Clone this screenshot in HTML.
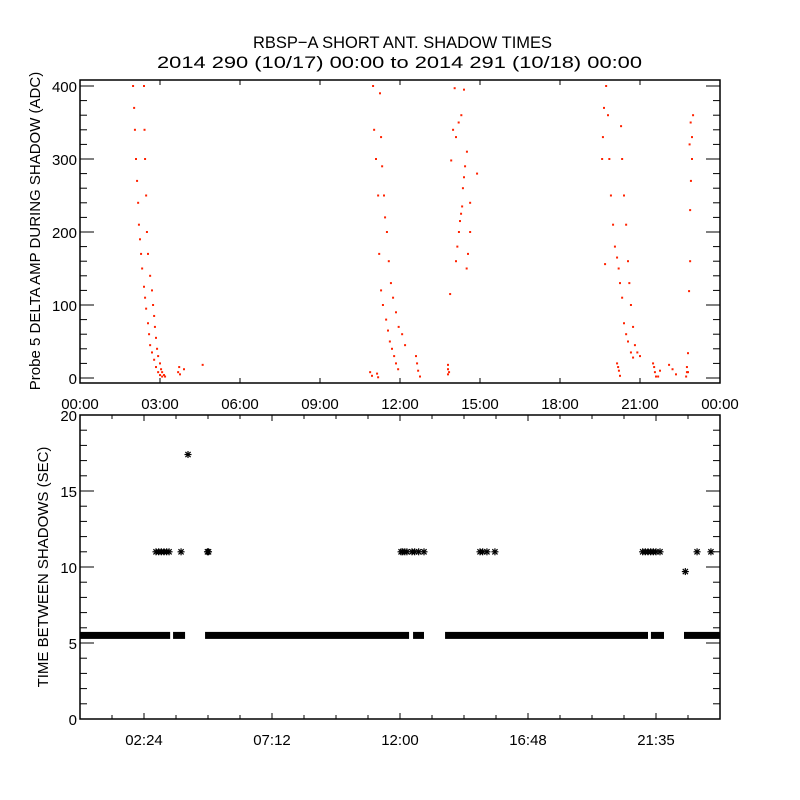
<!DOCTYPE html>
<html><head><meta charset="utf-8">
<style>
html,body{margin:0;padding:0;background:#fff;}
svg{display:block;}
text{font-family:"Liberation Sans",sans-serif;fill:#000;}
</style></head>
<body>
<svg id="chart" width="800" height="800" viewBox="0 0 800 800">
<rect x="0" y="0" width="800" height="800" fill="#fff"/>
<text x="253" y="48" font-size="17" textLength="299" lengthAdjust="spacingAndGlyphs">RBSP−A SHORT ANT. SHADOW TIMES</text>
<text x="157" y="68" font-size="17" textLength="485" lengthAdjust="spacingAndGlyphs">2014 290 (10/17) 00:00 to 2014 291 (10/18) 00:00</text>
<g id="topPanel"></g>
<g id="botPanel"></g>
</svg>
<script>
// ---- top panel data: [hour, ADC] ----
const ampHours = [
1.99,2.03,2.06,2.1,2.14,2.18,2.21,2.25,2.29,2.33,2.4,2.44,2.48,2.55,2.59,2.63,2.7,2.78,2.85,2.93,3.0,3.08,
2.4,2.42,2.44,2.48,2.51,2.55,2.63,2.7,2.74,2.78,2.81,2.85,2.89,2.93,3.0,3.04,3.08,3.15,3.19,3.68,3.72,3.75,3.9,4.6,
10.88,10.95,10.99,11.03,11.1,11.18,11.22,11.29,11.36,11.48,11.55,11.62,11.7,11.78,11.85,11.93,
11.14,11.18,11.25,11.29,11.33,11.4,11.44,11.51,11.58,11.66,11.74,11.85,11.95,12.08,12.19,12.6,12.64,12.68,12.75,
13.8,13.8,13.8,13.84,13.88,13.92,13.99,14.05,14.1,14.15,14.21,14.25,14.29,14.33,14.36,14.4,14.44,14.51,
14.1,14.2,14.3,14.4,14.5,14.55,14.63,14.63,14.89,
19.58,19.61,19.65,19.69,19.73,19.8,19.85,19.91,19.99,20.06,20.14,20.2,20.25,20.33,20.4,20.48,20.55,20.66,20.74,
20.14,20.18,20.21,20.25,20.29,20.33,20.4,20.48,20.55,20.6,20.66,20.74,20.81,20.9,21.0,
21.49,21.53,21.56,21.6,21.68,21.75,22.09,22.22,22.35,22.73,22.76,22.76,
22.8,22.8,22.84,22.88,22.88,22.91,22.95,22.95,22.99,22.9,22.86
];
const ampValues = [
400,370,340,300,270,240,210,190,170,150,125,110,95,75,60,45,35,25,15,8,4,2,
400,340,300,250,200,170,140,120,100,85,70,55,40,30,20,12,8,4,2,8,15,5,12,18,8,3,
400,340,300,250,170,120,100,80,65,50,40,30,20,12,6,1,
390,330,290,250,220,200,160,130,110,90,70,60,45,30,20,10,2,5,12,18,8,
115,298,340,397,160,180,200,215,225,235,260,275,290,310,330,350,360,395,
150,170,200,240,280,300,330,370,156,
400,360,300,250,210,180,165,150,130,110,75,60,50,35,28,20,15,10,3,
345,300,250,210,160,130,100,70,45,35,30,20,15,8,2,
2,10,18,12,5,2,15,8,8,34,119,160,
230,270,300,330,360,350,320,370,395,250,310
];
// ---- bottom panel data ----
const bandStarts = [0.0,3.49,4.69,12.49,13.69,21.41,22.65];
const bandEnds   = [3.38,3.94,12.34,12.9,21.3,21.9,24.0];
const bandValue = 5.5;
const outHours  = [2.85,2.95,3.05,3.15,3.25,3.34,3.79,4.05,4.78,4.82,12.04,12.1,12.18,12.26,12.45,12.55,12.7,12.9,15.0,15.1,15.26,15.56,21.1,21.2,21.3,21.4,21.5,21.6,21.75,22.7,23.14,23.66];
const outValues = [11,11,11,11,11,11,11,17.4,11,11,11,11,11,11,11,11,11,11,11,11,11,11,11,11,11,11,11,11,11,9.7,11,11];
const topXTicks = ["00:00","03:00","06:00","09:00","12:00","15:00","18:00","21:00","00:00"];
const topYTicks = [0,100,200,300,400];
const botXTicks = ["02:24","07:12","12:00","16:48","21:35"];
const botXTickHours = [2.4,7.2,12.0,16.8,21.6];
const botYTicks = [0,5,10,15,20];

const NS="http://www.w3.org/2000/svg";
function mk(parent,tag,attrs){const e=document.createElementNS(NS,tag);for(const k in attrs)e.setAttribute(k,attrs[k]);parent.appendChild(e);return e;}
const X0=80,X1=720;
const xs=h=>X0+(h/24)*(X1-X0);
const T0=80,T1=383;
const yT=v=>378-v*0.73;
const B0=415,B1=719;
const yB=v=>B1-v*(B1-B0)/20;

const topG=document.getElementById('topPanel');
const botG=document.getElementById('botPanel');

for(let i=0;i<ampHours.length;i++){
  const r=mk(topG,'rect',{x:xs(ampHours[i])-1,y:yT(ampValues[i])-1,width:2,height:2,fill:'#ff2200'});
  
  
}
let f=mk(topG,'rect',{x:X0,y:T0,width:X1-X0,height:T1-T0,fill:'none',stroke:'#000','stroke-width':1.5});


for(let i=0;i<topXTicks.length;i++){
  const x=X0+i*80;
  mk(topG,'line',{x1:x,y1:T1,x2:x,y2:T1-5,stroke:'#000'});
  mk(topG,'line',{x1:x,y1:T0,x2:x,y2:T0+5,stroke:'#000'});
  const t=mk(topG,'text',{x:x,y:T1+26,'font-size':15,'text-anchor':'middle'});
  t.textContent=topXTicks[i];
  
  
}
for(let v=0;v<=400;v+=20){
  const y=yT(v);const L=(v%100===0)?14:7;
  mk(topG,'line',{x1:X0,y1:y,x2:X0+L,y2:y,stroke:'#000'});
  mk(topG,'line',{x1:X1,y1:y,x2:X1-L,y2:y,stroke:'#000'});
}
for(const v of topYTicks){
  const t=mk(topG,'text',{x:X0-3,y:yT(v)+6,'font-size':15,'text-anchor':'end'});
  t.textContent=v;
  
  
}
let yl=mk(topG,'text',{x:0,y:0,'font-size':15,'text-anchor':'middle',transform:'translate(40,231) rotate(-90)'});
yl.textContent='Probe 5 DELTA AMP DURING SHADOW (ADC)';



for(let i=0;i<bandStarts.length;i++){
  const r=mk(botG,'rect',{x:xs(bandStarts[i]),y:yB(bandValue)-3.5,width:xs(bandEnds[i])-xs(bandStarts[i]),height:7,fill:'#000'});
  
  
}
function star(g,cx,cy){
  const s=mk(g,'g',{stroke:'#000','stroke-width':1.2});
  mk(s,'line',{x1:cx-3.5,y1:cy,x2:cx+3.5,y2:cy});
  mk(s,'line',{x1:cx,y1:cy-3.5,x2:cx,y2:cy+3.5});
  mk(s,'line',{x1:cx-2.6,y1:cy-2.6,x2:cx+2.6,y2:cy+2.6});
  mk(s,'line',{x1:cx-2.6,y1:cy+2.6,x2:cx+2.6,y2:cy-2.6});
  return s;
}
for(let i=0;i<outHours.length;i++){
  const s=star(botG,xs(outHours[i]),yB(outValues[i]));
  
  
}
f=mk(botG,'rect',{x:X0,y:B0,width:X1-X0,height:B1-B0,fill:'none',stroke:'#000','stroke-width':1.5});


for(let i=1;i<20;i++){
  const x=X0+i*32;const L=(i%4===2)?6:4;
  mk(botG,'line',{x1:x,y1:B1,x2:x,y2:B1-L,stroke:'#000'});
  mk(botG,'line',{x1:x,y1:B0,x2:x,y2:B0+L,stroke:'#000'});
}
for(let i=0;i<botXTicks.length;i++){
  const t=mk(botG,'text',{x:xs(botXTickHours[i]),y:B1+26,'font-size':15,'text-anchor':'middle'});
  t.textContent=botXTicks[i];
  
  
}
for(let v=0;v<=20;v++){
  const y=yB(v);const L=(v%5===0)?14:7;
  mk(botG,'line',{x1:X0,y1:y,x2:X0+L,y2:y,stroke:'#000'});
  mk(botG,'line',{x1:X1,y1:y,x2:X1-L,y2:y,stroke:'#000'});
}
for(const v of botYTicks){
  const t=mk(botG,'text',{x:X0-3,y:yB(v)+6,'font-size':15,'text-anchor':'end'});
  t.textContent=v;
  
  
}
yl=mk(botG,'text',{x:0,y:0,'font-size':15,'text-anchor':'middle',transform:'translate(48,567) rotate(-90)'});
yl.textContent='TIME BETWEEN SHADOWS (SEC)';


</script>
</body></html>
